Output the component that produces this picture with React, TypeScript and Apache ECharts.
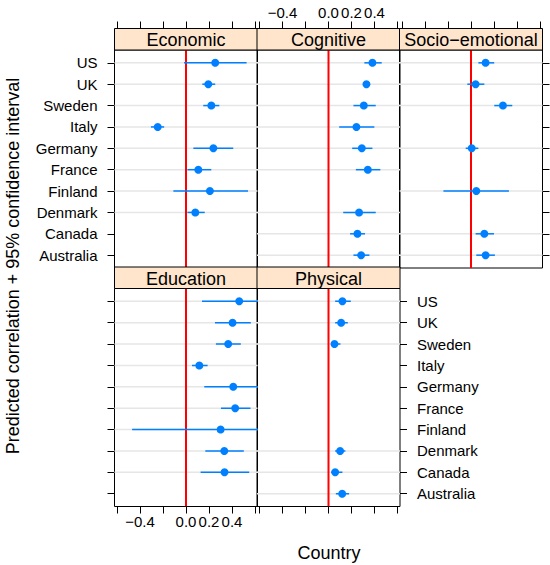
import React, { useEffect, useRef } from "react";
import * as echarts from "echarts";

// ---- data (top-to-bottom display order) ----
const countries = ["US", "UK", "Sweden", "Italy", "Germany", "France", "Finland", "Denmark", "Canada", "Australia"];
const panelNames = ["Economic", "Cognitive", "Socio\u2212emotional", "Education", "Physical"];

const economicEst = [0.254, 0.194, 0.22, -0.246, 0.238, 0.107, 0.208, 0.081, null, null];
const economicLo = [-0.017, 0.142, 0.15, -0.305, 0.064, 0.012, -0.11, 0.012, null, null];
const economicHi = [0.527, 0.254, 0.29, -0.19, 0.411, 0.22, 0.54, 0.163, null, null];

const cognitiveEst = [0.382, 0.33, 0.307, 0.243, 0.29, 0.342, null, 0.266, 0.252, 0.284];
const cognitiveLo = [0.312, 0.304, 0.217, 0.093, 0.206, 0.238, null, 0.128, 0.188, 0.217];
const cognitiveHi = [0.463, 0.362, 0.411, 0.399, 0.382, 0.451, null, 0.411, 0.318, 0.356];

const socioEst = [0.127, 0.04, 0.278, null, 0.006, null, 0.046, null, 0.116, 0.127];
const socioLo = [0.064, -0.032, 0.202, null, -0.046, null, -0.24, null, 0.04, 0.046];
const socioHi = [0.202, 0.116, 0.359, null, 0.064, null, 0.33, null, 0.2, 0.208];

const educationEst = [0.463, 0.405, 0.367, 0.116, 0.411, 0.428, 0.301, 0.333, 0.335, null];
const educationLo = [0.139, 0.252, 0.26, 0.052, 0.159, 0.304, -0.469, 0.168, 0.127, null];
const educationHi = [0.68, 0.564, 0.477, 0.188, 0.66, 0.561, 0.7, 0.503, 0.55, null];

const physicalEst = [0.121, 0.11, 0.052, null, null, null, null, 0.101, 0.058, 0.119];
const physicalLo = [0.058, 0.058, 0.029, null, null, null, null, 0.058, 0.023, 0.064];
const physicalHi = [0.194, 0.168, 0.104, null, null, null, null, 0.147, 0.121, 0.179];

const xTicks = [-0.6, -0.4, -0.2, 0, 0.2, 0.4, 0.6];
const xTickLabels = [-0.4, 0, 0.2, 0.4];

const panelData = [
  [economicEst, economicLo, economicHi],
  [cognitiveEst, cognitiveLo, cognitiveHi],
  [socioEst, socioLo, socioHi],
  [educationEst, educationLo, educationHi],
  [physicalEst, physicalLo, physicalHi],
];

// ---- layout ----
const FONT = '"Liberation Sans", Arial, Helvetica, sans-serif';
const colLeft = [114.5, 257, 399.5];
const PW = 143;
const PH = 218;
const STRIP_H = 21.5;
const rowTop = [50, 288.5];
const XMIN = -0.622;
const XMAX = 0.622;
const BLUE = "#0080ff";

const panelPos = [
  { col: 0, row: 0 },
  { col: 1, row: 0 },
  { col: 2, row: 0 },
  { col: 0, row: 1 },
  { col: 1, row: 1 },
];

function fmtX(v: number) {
  const r = Math.round(v * 10) / 10;
  if (r === 0) return "0.0";
  const s = Math.abs(r).toFixed(1);
  return r < 0 ? "\u2212" + s : s;
}

export default function App() {
  const ref = useRef<HTMLDivElement>(null);
  useEffect(() => {
    if (!ref.current) return;
    const chart = echarts.init(ref.current, null, { renderer: "svg" });

    const grids: any[] = [];
    const xAxes: any[] = [];
    const yAxes: any[] = [];
    const series: any[] = [];
    const graphics: any[] = [];

    panelPos.forEach((p, i) => {
      const left = colLeft[p.col];
      const top = rowTop[p.row];
      grids.push({
        left,
        top,
        width: PW,
        height: PH,
        show: true,
        borderColor: "#000",
        borderWidth: 1,
        backgroundColor: "transparent",
        containLabel: false,
        outerBoundsMode: "none",
      });

      const isTop = p.row === 0;
      const showXLabels = (isTop && p.col === 1) || (!isTop && p.col === 0);
      xAxes.push({
        type: "value",
        gridIndex: i,
        min: XMIN,
        max: XMAX,
        position: isTop ? "top" : "bottom",
        offset: isTop ? STRIP_H : 0,
        axisLine: { show: false, onZero: false },
        splitLine: { show: false },
        axisTick: {
          show: true,
          length: 7,
          inside: false,
          customValues: xTicks,
          lineStyle: { color: "#000", width: 1 },
        },
        axisLabel: {
          show: showXLabels,
          customValues: xTickLabels,
          formatter: (v: number) => fmtX(v),
          fontSize: 15,
          fontFamily: FONT,
          color: "#000",
          margin: isTop ? 9 : 7,
        },
      });

      let yPos = "left";
      let showYTicks = false;
      let showYLabels = false;
      if (p.col === 0) {
        yPos = "left";
        showYTicks = true;
        showYLabels = isTop;
      } else if (p.col === 2 && isTop) {
        yPos = "right";
        showYTicks = true;
      } else if (p.col === 1 && !isTop) {
        yPos = "right";
        showYTicks = true;
        showYLabels = true;
      }
      yAxes.push({
        type: "value",
        gridIndex: i,
        min: 0.4,
        max: 10.6,
        position: yPos,
        axisLine: { show: false, onZero: false },
        splitLine: { show: false },
        axisTick: {
          show: showYTicks,
          length: 7,
          inside: false,
          customValues: countries.map((_, k) => 10 - k),
          lineStyle: { color: "#000", width: 1 },
        },
        axisLabel: {
          show: showYLabels,
          customValues: countries.map((_, k) => 10 - k),
          formatter: (v: number) => countries[10 - Math.round(v)] ?? "",
          fontSize: 15,
          fontFamily: FONT,
          color: "#000",
          margin: 17,
        },
      });

      const [est, lo, hi] = panelData[i];
      const data: any[] = [];
      countries.forEach((_, k) => {
        if (est[k] != null) data.push([est[k], 10 - k, lo[k], hi[k]]);
      });

      // reference lines per row
      series.push({
        type: "custom",
        xAxisIndex: i,
        yAxisIndex: i,
        z: 1,
        silent: true,
        clip: true,
        encode: { x: 0, y: 1 },
        data,
        renderItem: (params: any, api: any) => {
          const cs = params.coordSys;
          const pt = api.coord([api.value(0), api.value(1)]);
          return {
            type: "line",
            shape: { x1: cs.x, y1: pt[1], x2: cs.x + cs.width, y2: pt[1] },
            style: { stroke: "#e6e6e6", lineWidth: 1.5 },
          };
        },
      });

      // red zero line
      series.push({
        type: "custom",
        xAxisIndex: i,
        yAxisIndex: i,
        z: 2,
        silent: true,
        clip: true,
        encode: { x: 0, y: 1 },
        data: [[0, 5]],
        renderItem: (params: any, api: any) => {
          const cs = params.coordSys;
          const pt = api.coord([0, 5]);
          return {
            type: "line",
            shape: { x1: pt[0], y1: cs.y, x2: pt[0], y2: cs.y + cs.height },
            style: { stroke: "#ff0000", lineWidth: 2 },
          };
        },
      });

      // intervals + points
      series.push({
        type: "custom",
        xAxisIndex: i,
        yAxisIndex: i,
        z: 3,
        silent: true,
        clip: true,
        encode: { x: [0, 2, 3], y: 1 },
        data,
        renderItem: (params: any, api: any) => {
          const y = api.value(1);
          const pe = api.coord([api.value(0), y]);
          const pl = api.coord([api.value(2), y]);
          const ph = api.coord([api.value(3), y]);
          return {
            type: "group",
            children: [
              {
                type: "line",
                shape: { x1: pl[0], y1: pl[1], x2: ph[0], y2: ph[1] },
                style: { stroke: BLUE, lineWidth: 1.5 },
              },
              {
                type: "circle",
                shape: { cx: pe[0], cy: pe[1], r: 4 },
                style: { fill: BLUE },
              },
            ],
          };
        },
      });

      // strip
      graphics.push({
        type: "rect",
        shape: { x: left, y: top - STRIP_H, width: PW, height: STRIP_H },
        style: { fill: "#ffe5cc", stroke: "#000", lineWidth: 1 },
        z: 10,
      });
      graphics.push({
        type: "text",
        x: left + PW / 2,
        y: top - STRIP_H / 2 + 1,
        style: {
          text: panelNames[i],
          fontSize: 18,
          fontFamily: FONT,
          fill: "#000",
          textAlign: "center",
          textVerticalAlign: "middle",
        },
        z: 11,
      });
    });

    graphics.push({
      type: "text",
      x: 13,
      y: 266,
      rotation: Math.PI / 2,
      style: {
        text: "Predicted correlation + 95% confidence interval",
        fontSize: 18,
        fontFamily: FONT,
        fill: "#000",
        textAlign: "center",
        textVerticalAlign: "middle",
      },
    });
    graphics.push({
      type: "text",
      x: 329,
      y: 553,
      style: {
        text: "Country",
        fontSize: 18,
        fontFamily: FONT,
        fill: "#000",
        textAlign: "center",
        textVerticalAlign: "middle",
      },
    });

    chart.setOption({
      animation: false,
      backgroundColor: "#fff",
      grid: grids,
      xAxis: xAxes,
      yAxis: yAxes,
      series,
      graphic: graphics,
    });
    return () => chart.dispose();
  }, []);

  return (
    <div
      ref={ref}
      style={{ position: "fixed", left: 0, top: 0, width: 550, height: 565 }}
    />
  );
}
